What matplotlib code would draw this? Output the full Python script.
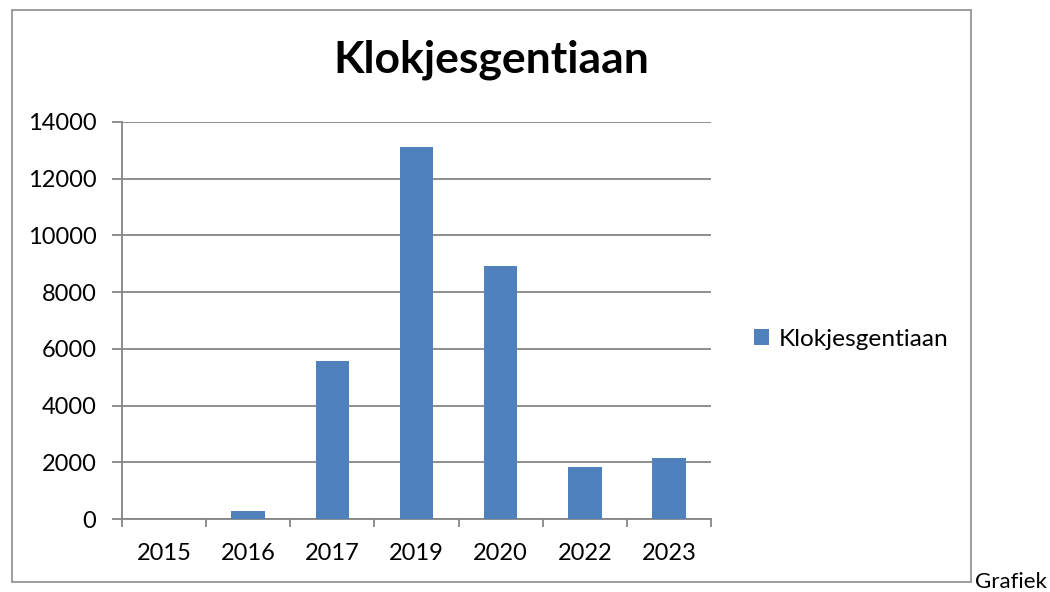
import matplotlib
matplotlib.use("Agg")
import matplotlib.pyplot as plt
from matplotlib.patches import Rectangle, Patch
import numpy as np

plt.rcParams['font.family'] = ['Lato', 'DejaVu Sans']

years = ["2015", "2016", "2017", "2019", "2020", "2022", "2023"]
values = [0, 270, 5570, 13120, 8930, 1820, 2140]
yticks = [0, 2000, 4000, 6000, 8000, 10000, 12000, 14000]
series_name = "Klokjesgentiaan"
title = "Klokjesgentiaan"

W, H = 1050, 592
fig = plt.figure(figsize=(W / 100, H / 100), dpi=100)
fig.patch.set_facecolor("white")

def fx(px):
    return px / W

def fy(py):
    return (H - py) / H

# chart border
fig.patches.append(Rectangle((fx(12), fy(582)), fx(971) - fx(12), fy(10) - fy(582),
                             transform=fig.transFigure, fill=False,
                             edgecolor="#8c8c8c", linewidth=1.2, zorder=0))

ax = fig.add_axes([fx(122), fy(519), fx(711) - fx(122), fy(122) - fy(519)])
x = np.arange(len(years))
bar_color = "#4F81BD"
ax.bar(x, values, width=0.4, color=bar_color, zorder=3)

fs = 17
ax.set_xlim(-0.5, len(years) - 0.5)
ax.set_ylim(0, 14000)
ax.set_yticks(yticks)
ax.set_yticklabels([str(v) for v in yticks], fontsize=fs)
ax.yaxis.grid(True, color="#868686", linewidth=1.3, zorder=0)
ax.set_axisbelow(True)

# category boundaries as major ticks, labels as minor ticks
ax.set_xticks(np.arange(-0.5, len(years) + 0.5, 1.0))
ax.set_xticklabels([])
ax.set_xticks(x, minor=True)
ax.set_xticklabels(years, minor=True, fontsize=fs)
ax.tick_params(axis="x", which="major", length=6, width=1.3, color="#868686", direction="out")
ax.tick_params(axis="x", which="minor", length=0, pad=17)
ax.tick_params(axis="y", length=7, width=1.3, color="#868686", direction="out", pad=11.5)

for s in ["top", "right"]:
    ax.spines[s].set_visible(False)
for s in ["left", "bottom"]:
    ax.spines[s].set_color("#868686")
    ax.spines[s].set_linewidth(1.3)

fig.text(fx(491), fy(60), title, ha="center", va="center", fontsize=32, fontweight="bold")

handle = Patch(facecolor=bar_color, edgecolor="none")
fig.legend([handle], [series_name], loc="center left", bbox_to_anchor=(fx(754), fy(339)),
           frameon=False, fontsize=17.6, handlelength=0.6, handleheight=0.6,
           handletextpad=0.4, borderaxespad=0, borderpad=0)

fig.text(fx(975), fy(572), "Grafiek", ha="left", va="top", fontsize=16)

fig.savefig("out.png", dpi=100, facecolor="white")
